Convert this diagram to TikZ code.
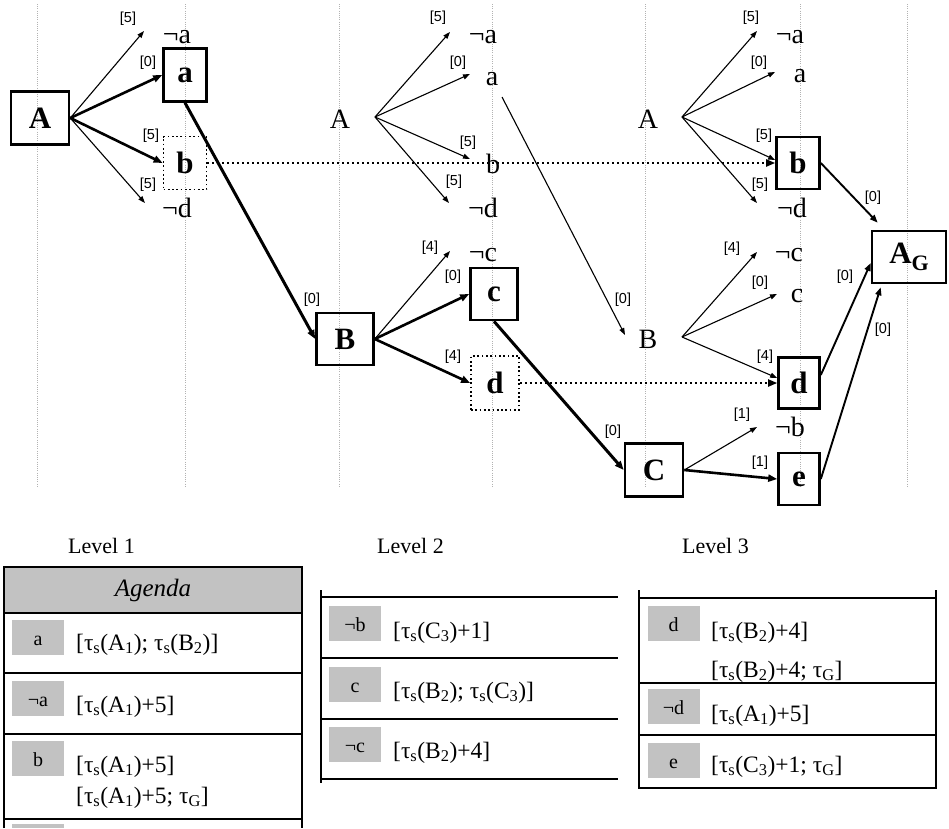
\documentclass[tikz,border=0pt]{standalone}
\usepackage{fontspec}
\setmainfont{Liberation Serif}
\newfontfamily\labfont{Liberation Sans}
\usetikzlibrary{arrows.meta}
\newcommand{\taus}{τ\textsubscript{s}}
\tikzset{
  gridline/.style={draw=gray!60, line width=1pt, dash pattern=on 1pt off 1.2pt},
  bx/.style={draw, line width=2.6pt, inner sep=0pt, minimum width=43pt, minimum height=53pt,
    font=\fontsize{31}{31}\selectfont\bfseries},
  dbx/.style={bx, line width=1.7pt, dash pattern=on 1.7pt off 2.6pt},
  txt/.style={inner sep=0pt, anchor=base, font=\fontsize{28}{28}\selectfont},
  lab/.style={inner sep=0pt, font=\labfont\fontsize{14.5}{14.5}\selectfont},
  thinarr/.style={line width=1.1pt, -{Triangle[length=7pt,width=5pt]}},
  thickarr/.style={line width=2.6pt, -{Triangle[length=9pt,width=7pt]}},
  midarr/.style={line width=1.9pt, -{Triangle[length=8pt,width=6pt]}},
  dotcon/.style={line width=2pt, dash pattern=on 2pt off 3pt, -{Triangle[length=9pt,width=7pt]}},
  tline/.style={draw=black, line width=1.1pt},
  gcell/.style={fill=gray!48, inner sep=0pt, minimum width=52pt, minimum height=35pt,
    text height=16pt, text depth=0pt, font=\fontsize{20}{20}\selectfont},
  ttxt/.style={inner sep=0pt, anchor=base west, font=\fontsize{23.5}{23.5}\selectfont},
  lvl/.style={inner sep=0pt, anchor=base west, font=\fontsize{22}{22}\selectfont},
}
\begin{document}
\begin{tikzpicture}[x=1pt,y=-1pt]
\useasboundingbox (0,0) rectangle (949,828);
% grid lines
\foreach \gx in {37,185,339,492,645,800,907}
  \draw[gridline] (\gx,4) -- (\gx,488);

% ---------- Level 1 ----------
\node[bx, minimum width=58pt] (A1) at (40,118) {A};
\node[bx] (a1) at (185,75) {a};
\node[dbx] (b1) at (185,163) {b};
\node[txt] (na1) at (177,43) {¬a};
\node[txt] (nd1) at (177,217) {¬d};
\coordinate (t1na) at (144,31);
\coordinate (t1nd) at (145,203);
\draw[thinarr] (A1.east) -- (t1na);
\draw[thickarr] (A1.east) -- (a1.west);
\draw[thickarr] (A1.east) -- (b1.west);
\draw[thinarr] (A1.east) -- (t1nd);
\node[lab] (l1a) at (128,19) {[5]};
\node[lab] (l1b) at (148,63) {[0]};
\node[lab] (l1c) at (151,136) {[5]};
\node[lab] (l1d) at (148,185) {[5]};

% ---------- Level 2 ----------
\node[bx, minimum width=57pt, minimum height=52pt] (B2) at (345,339) {B};
\node[bx, minimum width=47pt, minimum height=52pt] (c2) at (494,294) {c};
\node[dbx, minimum width=48pt, minimum height=54pt] (d2) at (495,383) {d};
\draw[thickarr, line width=3pt] (a1.south) -- (B2.west);
\node[lab] (l1e) at (312,300) {[0]};

\node[txt] (A2) at (340,128) {A};
\coordinate (s2) at (375,117);
\node[txt] (na2) at (483,43) {¬a};
\node[txt] (a2) at (492,85) {a};
\node[txt] (b2) at (493,173) {b};
\node[txt] (nd2) at (483,217) {¬d};
\coordinate (t2na) at (450,32);
\coordinate (t2a) at (470,74);
\coordinate (t2b) at (470,159);
\coordinate (t2nd) at (449,203);
\draw[thinarr] (s2) -- (t2na);
\draw[thinarr] (s2) -- (t2a);
\draw[thinarr] (s2) -- (t2b);
\draw[thinarr] (s2) -- (t2nd);
\node[lab] (l2a) at (438,18) {[5]};
\node[lab] (l2b) at (458,63) {[0]};
\node[lab] (l2c) at (468,143) {[5]};
\node[lab] (l2d) at (454,182) {[5]};

\node[txt] (nc2) at (483,261) {¬c};
\coordinate (t2nc) at (450,251);
\draw[thinarr] (B2.east) -- (t2nc);
\draw[thickarr] (B2.east) -- (c2.west);
\draw[thickarr] (B2.east) -- (d2.west);
\node[lab] (l2e) at (430,248) {[4]};
\node[lab] (l2f) at (453,277) {[0]};
\node[lab] (l2g) at (453,357) {[4]};

% ---------- Level 3 ----------
\node[bx, minimum width=58pt] (C3) at (654,470) {C};
\node[bx, minimum height=52pt] (b3) at (798,163) {b};
\node[bx, minimum width=41pt, minimum height=51pt] (d3) at (799,383) {d};
\node[bx, minimum width=41pt, minimum height=52pt] (e3) at (799,479) {e};
\node[bx, minimum width=74pt, minimum height=52pt] (AG) at (909,257)
  {A\raisebox{-0.22em}{\fontsize{22}{22}\selectfont G}};

\draw[thickarr, line width=3pt] (c2.south) -- (C3.west);
\node[lab] (l2h) at (613,432) {[0]};

\draw[dotcon] (b1.east) -- (b3.west);
\draw[dotcon] (d2.east) -- (d3.west);

\coordinate (sa2) at (502,97);
\coordinate (tB3) at (625,335);
\draw[thinarr] (sa2) -- (tB3);
\node[lab] (l2i) at (623,300) {[0]};

\node[txt] (A3) at (648,128) {A};
\coordinate (s3) at (682,117);
\node[txt] (na3) at (790,43) {¬a};
\node[txt] (a3) at (800,82) {a};
\node[txt] (nd3) at (792,217) {¬d};
\coordinate (t3na) at (757,31);
\coordinate (t3a) at (775,72);
\coordinate (t3nd) at (757,203);
\draw[thinarr] (s3) -- (t3na);
\draw[thinarr] (s3) -- (t3a);
\draw[thinarr] (s3) -- ([yshift=3pt]b3.west);
\draw[thinarr] (s3) -- (t3nd);
\node[lab] (l3a) at (751,18) {[5]};
\node[lab] (l3b) at (759,63) {[0]};
\node[lab] (l3c) at (764,136) {[5]};
\node[lab] (l3d) at (760,185) {[5]};

\node[txt] (B3) at (648,348) {B};
\coordinate (s3b) at (682,337);
\node[txt] (nc3) at (789,261) {¬c};
\node[txt] (c3) at (797,302) {c};
\coordinate (t3nc) at (757,252);
\coordinate (t3c) at (777,294);
\draw[thinarr] (s3b) -- (t3nc);
\draw[thinarr] (s3b) -- (t3c);
\draw[thinarr] (s3b) -- ([yshift=5pt]d3.west);
\node[lab] (l3e) at (732,249) {[4]};
\node[lab] (l3f) at (760,283) {[0]};
\node[lab] (l3g) at (765,357) {[4]};

\node[txt] (nb3) at (790,436) {¬b};
\coordinate (t3nb) at (757,427);
\draw[thinarr] (C3.east) -- (t3nb);
\draw[thickarr] (C3.east) -- (e3.west);
\node[lab] (l3h) at (742,415) {[1]};
\node[lab] (l3i) at (760,463) {[1]};

\draw[midarr] (b3.east) -- ([xshift=7pt,yshift=7pt]AG.north west);
\draw[midarr] ([yshift=8pt]d3.east) -- ([yshift=-6pt]AG.west);
\draw[midarr] (e3.east) -- ([xshift=10pt,yshift=-3pt]AG.south west);
\node[lab] (l3j) at (873,198) {[0]};
\node[lab] (l3k) at (845,277) {[0]};
\node[lab] (l3l) at (883,330) {[0]};

% ---------- Tables ----------
\node[lvl] (lv1) at (68,553) {Level 1};
\node[lvl] (lv2) at (377,553) {Level 2};
\node[lvl] (lv3) at (682,553) {Level 3};

% table 1
\fill[gray!48] (4,567) rectangle (302,613);
\draw[tline] (4,828) -- (4,567) -- (302,567) -- (302,828);
\foreach \ty in {613,673,734,819} \draw[tline] (4,\ty) -- (302,\ty);
\node[inner sep=0pt, font=\fontsize{25}{25}\selectfont\itshape] (agenda) at (153,590) {Agenda};
\node[gcell] (g1a) at (38,637.5) {a};
\node[gcell] (g1b) at (38,698) {¬a};
\node[gcell] (g1c) at (38,758.5) {b};
\fill[gray!48] (12,824) rectangle (64,828);
\node[ttxt] (r1a) at (76,650) {[\taus(A\textsubscript{1}); \taus(B\textsubscript{2})]};
\node[ttxt] (r1b) at (76,712) {[\taus(A\textsubscript{1})+5]};
\node[ttxt] (r1c) at (76,772) {[\taus(A\textsubscript{1})+5]};
\node[ttxt] (r1d) at (76,803) {[\taus(A\textsubscript{1})+5; τ\textsubscript{G}]};

% table 2
\draw[tline] (321,590) -- (321,783);
\foreach \ty in {597,658,719,779} \draw[tline] (321,\ty) -- (618,\ty);
\node[gcell] (g2a) at (355,623) {¬b};
\node[gcell] (g2b) at (355,684.5) {c};
\node[gcell] (g2c) at (355,744) {¬c};
\node[ttxt] (r2a) at (393,638) {[\taus(C\textsubscript{3})+1]};
\node[ttxt] (r2b) at (393,698) {[\taus(B\textsubscript{2}); \taus(C\textsubscript{3})]};
\node[ttxt] (r2c) at (393,758) {[\taus(B\textsubscript{2})+4]};

% table 3
\draw[tline] (639,590) -- (639,788) -- (936,788) -- (936,590);
\foreach \ty in {598,683,735} \draw[tline] (639,\ty) -- (936,\ty);
\node[gcell] (g3a) at (673.5,623.5) {d};
\node[gcell] (g3b) at (673.5,706.5) {¬d};
\node[gcell] (g3c) at (673.5,760) {e};
\node[ttxt] (r3a) at (711,638) {[\taus(B\textsubscript{2})+4]};
\node[ttxt] (r3b) at (711,677) {[\taus(B\textsubscript{2})+4; τ\textsubscript{G}]};
\node[ttxt] (r3c) at (711,721) {[\taus(A\textsubscript{1})+5]};
\node[ttxt] (r3d) at (711,772) {[\taus(C\textsubscript{3})+1; τ\textsubscript{G}]};
\end{tikzpicture}
\end{document}
